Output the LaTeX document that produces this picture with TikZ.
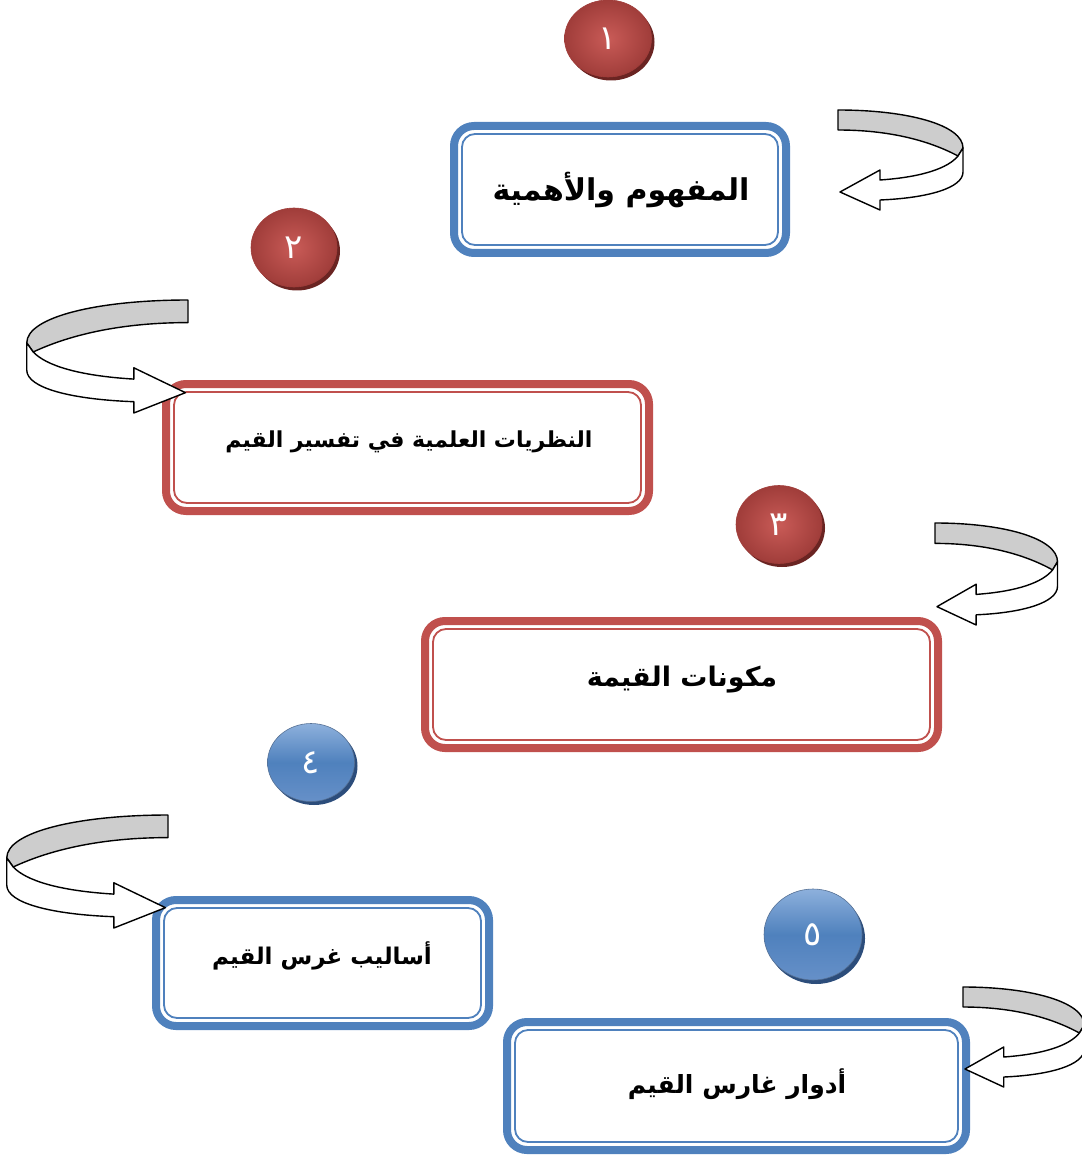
\documentclass[tikz,border=0pt]{standalone}
\usepackage{fontspec}
\usetikzlibrary{shapes.geometric}
\TeXXeTstate=1
\newfontfamily\arabicfont[Script=Arabic]{DejaVu Sans}
\definecolor{boxblue}{HTML}{4F81BD}
\definecolor{boxred}{HTML}{C0504D}
\definecolor{bandgray}{HTML}{CDCDCD}
\definecolor{redlight}{HTML}{C95B57}
\definecolor{reddark}{HTML}{A03D3A}
\definecolor{redshadow}{HTML}{6A2422}
\definecolor{bluelight}{HTML}{8DB0DC}
\definecolor{bluemid}{HTML}{4F81BD}
\definecolor{bluebot}{HTML}{6690C8}
\definecolor{blueshadow}{HTML}{2C4D7B}
\newcommand\curlarrow[1]{%
\begin{scope}[#1]
\filldraw[fill=bandgray, draw=black, line width=1.4pt, line join=round]
  (0,0) .. controls (70,0) and (125,15) .. (125,38) -- (120,46)
  .. controls (90,30) and (50,20) .. (0,20) -- cycle;
\filldraw[fill=white, draw=black, line width=1.4pt, line join=round]
  (120,46) -- (125,38) -- (125,62) .. controls (125,78) and (90,88) .. (42,90)
  -- (42,100) -- (2,82) -- (42,60) -- (42,70)
  .. controls (85,67) and (110,58) .. (120,46) -- cycle;
\end{scope}}
\begin{document}
\begin{tikzpicture}[x=1pt,y=-1pt,
  frame/.style={draw, line width=8pt, rounded corners=20pt, outer sep=0pt, inner sep=0pt, fill=white},
  innerframe/.style={line width=1.8pt, rounded corners=13pt},
  txt/.style={font=\arabicfont\bfseries, inner sep=0pt},
  redbtn/.style={ellipse, inner sep=0pt, draw=reddark, line width=0.6pt, inner color=redlight, outer color=reddark, text=white, font=\arabicfont\fontsize{34}{34}\selectfont},
  bluebtn/.style={ellipse, inner sep=0pt, draw=blueshadow!80, line width=0.6pt, top color=bluelight, bottom color=bluebot, middle color=bluemid, text=white, font=\arabicfont\fontsize{34}{34}\selectfont},
  shadowred/.style={ellipse, inner sep=0pt, fill=redshadow},
  shadowblue/.style={ellipse, inner sep=0pt, fill=blueshadow}]
\useasboundingbox (0,0) rectangle (1081,1155);

% boxes
\node[frame, draw=boxblue, minimum width=332pt, minimum height=127pt] (b1) at (620,189.5) {};
\draw[innerframe, boxblue] ([shift={(8,8)}]b1.north west) rectangle ([shift={(-8,-8)}]b1.south east);
\node[frame, draw=boxred, minimum width=483pt, minimum height=127pt] (b2) at (407.5,447.5) {};
\draw[innerframe, boxred] ([shift={(8,8)}]b2.north west) rectangle ([shift={(-8,-8)}]b2.south east);
\node[frame, draw=boxred, minimum width=513pt, minimum height=127pt] (b3) at (681.5,684.5) {};
\draw[innerframe, boxred] ([shift={(8,8)}]b3.north west) rectangle ([shift={(-8,-8)}]b3.south east);
\node[frame, draw=boxblue, minimum width=333pt, minimum height=126pt] (b4) at (322.5,963) {};
\draw[innerframe, boxblue] ([shift={(8,8)}]b4.north west) rectangle ([shift={(-8,-8)}]b4.south east);
\node[frame, draw=boxblue, minimum width=459pt, minimum height=128pt] (b5) at (736.5,1086) {};
\draw[innerframe, boxblue] ([shift={(8,8)}]b5.north west) rectangle ([shift={(-8,-8)}]b5.south east);

% texts
\node[txt] (t1) at (621,190) {\fontsize{30}{34}\selectfont\beginR المفهوم والأهمية\endR};
\node[txt] (t2) at (409,442) {\fontsize{22}{26}\selectfont\beginR النظريات العلمية في تفسير القيم\endR};
\node[txt] (t3) at (682,680) {\fontsize{27}{31}\selectfont\beginR مكونات القيمة\endR};
\node[txt] (t4) at (322,956) {\fontsize{23}{27}\selectfont\beginR أساليب غرس القيم\endR};
\node[txt] (t5) at (737,1084) {\fontsize{25}{29}\selectfont\beginR أدوار غارس القيم\endR};

% numbered buttons
\node[shadowred, minimum width=87pt, minimum height=77pt] (s1) at (611,42) {};
\node[redbtn, minimum width=87pt, minimum height=77pt] (c1) at (608,38.5) {\beginR ١\endR};
\node[shadowred, minimum width=86pt, minimum height=79pt] (s2) at (297,251) {};
\node[redbtn, minimum width=86pt, minimum height=79pt] (c2) at (294,247.5) {\beginR ٢\endR};
\node[shadowred, minimum width=86pt, minimum height=78pt] (s3) at (782,528) {};
\node[redbtn, minimum width=86pt, minimum height=78pt] (c3) at (779,524.5) {\beginR ٣\endR};
\node[shadowblue, minimum width=87pt, minimum height=78pt] (s4) at (314,766) {};
\node[bluebtn, minimum width=87pt, minimum height=78pt] (c4) at (311,762.5) {\beginR ٤\endR};
\node[shadowblue, minimum width=98pt, minimum height=91pt] (s5) at (816,938.5) {};
\node[bluebtn, minimum width=98pt, minimum height=91pt] (c5) at (813,934.5) {\beginR ٥\endR};

% curled arrows
\curlarrow{shift={(838,110)}}
\curlarrow{shift={(188,300)}, xscale=-1.29, yscale=1.13}
\curlarrow{shift={(935,523)}, xscale=0.98, yscale=1.02}
\curlarrow{shift={(168,815)}, xscale=-1.29, yscale=1.13}
\curlarrow{shift={(963,987)}, xscale=0.97, yscale=1.0}
\end{tikzpicture}
\end{document}
